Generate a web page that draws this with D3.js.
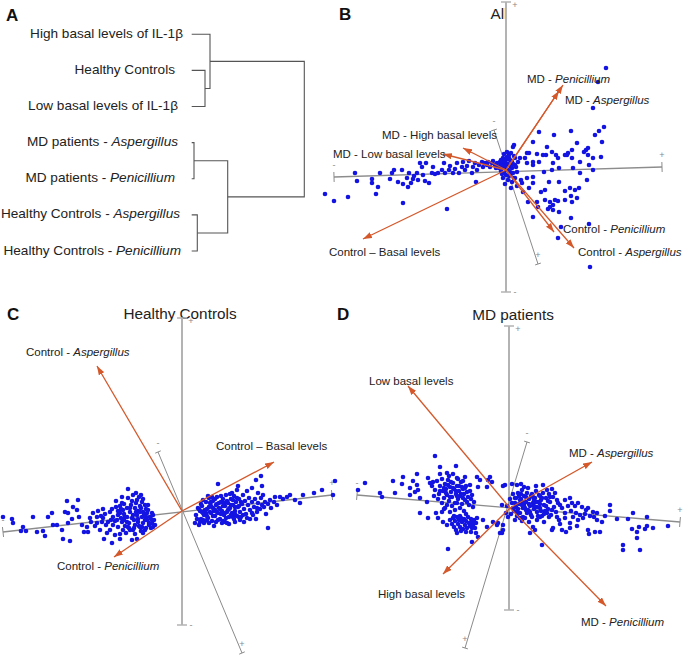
<!DOCTYPE html>
<html><head><meta charset="utf-8">
<script src="https://cdn.jsdelivr.net/npm/d3@7"></script>
<style>
body{margin:0;background:#fff;}
svg{display:block;font-family:"Liberation Sans",Arial,sans-serif;}
</style></head><body>
<svg id="chart" width="685" height="663"></svg>
<script>
// ---------- DATA ----------
// Panel A: dendrogram leaves [plain text, italic text]
const leavesA = [
  ["High basal levels of IL-1β",""],
  ["Healthy Controls",""],
  ["Low basal levels of IL-1β",""],
  ["MD patients - ","Aspergillus"],
  ["MD patients - ","Penicillium"],
  ["Healthy Controls - ","Aspergillus"],
  ["Healthy Controls - ","Penicillium"]
];
// merges: [childA, childB, height]; "mK" refers to merge K
const mergesA = [[1,2,13.3],[0,"m0",18.3],[3,4,2.3],[5,6,5.6],["m2","m3",36],["m1","m4",112.6]];

// Panel B: All — sample scores
const pointsB = [[-181,-24],[-172,-31],[-158,-27],[-151,-3],[-149,-11],[-134,-9],[-134,-13],[-130,-24],[-128,-17],[-126,-3],[-116,-9],[-114,-3],[-112,0],[-108,-12],[-104,0],[-103,-14],[-103,-33],[-99,-8],[-97,-3],[-98,-17],[-95,-13],[-93,-9],[-92,-6],[-89,-3],[-88,-10],[-86,7],[-84,3],[-83,-5],[-80,7],[-81,-11],[-77,-13],[-74,-3],[-73,3],[-71,-4],[-68,-3],[-64,0],[-62,7],[-61,-3],[-59,-39],[-57,0],[-56,4],[-53,-3],[-51,1],[-49,7],[-47,-3],[-44,3],[-43,8],[-41,0],[-39,4],[-37,9],[-34,-3],[-33,3],[-31,7],[-30,-12],[-29,0],[-27,5],[-24,8],[-23,3],[-21,7],[-19,5],[-18,8],[-16,3],[-14,7],[-13,9],[-11,5],[-9,7],[-8,3],[-6,8],[-4,5],[-3,2],[-1,7],[1,0],
[-2,-3],[3,-6],[-5,-1],[6,2],[2,-10],[-3,-8],[5,-4],[8,-8],[4,10],[0,4],[-7,2],[7,6],[10,3],[3,12],[-1,-14],[6,-12],[11,-2],[-10,2],[9,12],[12,8],
[100,102],[92,88],[87,62],[98,43],[93,39],[89,35],[96,28],[65,39],[48,35],[33,38],[71,27],[82,22],[80,20],[78,18],[41,23],[27,28],[8,25],[66,20],[62,17],[59,15],[50,15],[46,18],[37,15],[31,16],[23,17],[21,17],[14,12],[19,12],[27,8],[33,8],[40,15],[47,7],[52,12],[61,15],[66,12],[74,8],[82,15],[87,12],[95,13],[83,5],[87,0],[67,2],[74,-3],[53,2],[46,0],[38,-2],[27,5],[21,7],[81,-10],[53,-12],[43,-12],[27,-7],[21,-8],[15,-10],[9,-8],[16,-13],[27,-13],[23,-18],[5,-18],[11,-16],[73,-18],[69,-20],[64,-18],[59,-21],[39,-20],[35,-22],[17,-22],[65,-26],[71,-28],[59,-30],[52,-31],[49,-30],[44,-32],[39,-30],[31,-32],[22,-32],[66,-32],[44,-37],[47,-35],[42,-39],[47,-40],[32,-37],[53,-42],[27,-47],[65,-48],[55,-57],[83,-54],[52,-68],[84,-97],
[0,10],[3,15],[-3,12],[6,8],[1,18],[-4,6],[8,14],[5,3],[-2,16],[2,6],[9,5],[4,-2],[-5,10],[7,-3],[0,-5],[2,0],[-1,2],[7,23],[5,17],[-6,4],[-2,9],[4,5],[1,13],[-4,-4],[3,-1]];
// loadings [plain, italic, x, y]
const arrowsB = [["MD - ","Penicillium",57,85],["MD - ","Aspergillus",53,79],["MD - High basal levels","",-43,22],["MD - Low basal levels","",-63,16],["Control – Basal levels","",-143,-69],["Control - ","Penicillium",48,-62],["Control - ","Aspergillus",68,-78]];
// biplot axes [x1,y1,x2,y2] : horizontal, vertical, third
const axesB = [[-172,-7,156,3],[0,168,0,-122],[-12,40,32,-94]];

// Panel C: Healthy Controls
const pointsC = [[-179,-6],[-170,-8],[-169,-12],[-161,-20],[-159,-16],[-156,-20],[-149,-6],[-145,-21],[-139,-20],[-137,-25],[-134,-6],[-130,-2],[-129,-14],[-125,-14],[-120,-19],[-119,-28],[-115,10],[-117,-1],[-114,-2],[-114,-12],[-112,-30],[-110,-8],[-109,4],[-105,1],[-104,11],[-103,-6],[-100,-14],[-98,-21],[-95,-16],[-94,-21],[-54,22],[-49,16],[-45,11],[-66,10],[-60,8],[-40,9],[-37,6],[-30,-12],[-29,-16],[-27,-14],[-39,-22],[-45,-28],[-50,-29],[-62,-28],[-70,-32],[-78,-28],[-75,-22],[-82,-19],[-85,-12],[-89,-2],[-84,0],[-79,2],[-72,-1],[-69,-6],[-65,-9],[-62,-2],[-59,1],[-57,-6],[-55,-11],[-52,-1],[-50,-7],[-47,3],[-45,-4],[-44,-11],[-42,-1],[-40,-6],[-39,-12],[-35,-2],[-35,-9],[-34,1],[-32,-6],[-30,-2],[-54,-16],[-49,-19],[-59,-19],[-64,-16],[-69,-14],[-74,-11],[-79,-7],[-85,-6],[-92,-7],[-42,-16],[-47,-14],[-60,-11],[-64,-4],
[-66,4],[-62,5],[-58,-3],[-55,3],[-53,-12],[-51,6],[-48,-9],[-46,8],[-44,0],[-43,-15],[-41,3],[-38,-4],[-37,-9],[-36,2],[-33,-12],[-31,-8],[-29,-4],[-28,-9],[-57,-15],[-61,-7],[-67,-10],[-71,-9],[-76,-14],[-80,-11],[-87,-15],[-91,-11],[-77,-3],[-81,-5],[-70,2],[-64,0],[-52,-19],[-47,-23],[-41,-20],[-36,-17],[-56,-22],[-62,-23],[-67,-24],[-72,-19],[-54,13],[-50,10],[-43,14],[-39,12],[-60,14],[-46,18],[-41,16],
[-33,-14],[-36,-6],[-39,-1],[-42,5],[-46,-1],[-49,-4],[-52,3],[-55,-6],[-58,-9],[-61,2],[-48,-17],[-44,-8],[-37,-19],[-31,-17],[-34,6],[-40,-16],[-53,-17],[-58,7],
[36,27],[79,35],[74,31],[56,25],[70,23],[80,25],[50,18],[55,21],[65,20],[76,18],[81,16],[93,14],[98,14],[101,12],[105,14],[108,16],[113,11],[121,16],[132,18],[140,21],[153,30],[151,16],[118,8],[88,11],[86,-17],[13,-12],[17,-14],[21,-9],[43,-11],[53,-11],[51,-6],[61,-4],[70,-2],[75,3],[80,6],[83,9],
[18,0],[20,5],[22,-4],[24,9],[25,2],[26,-7],[27,13],[28,-1],[29,5],[30,-10],[31,10],[32,0],[33,-5],[34,6],[35,14],[36,-2],[37,3],[38,-8],[39,9],[40,0],[41,12],[42,-4],[43,5],[44,16],[45,-1],[46,8],[47,-6],[48,3],[49,12],[50,-2],[51,6],[52,15],[53,0],[54,9],[55,-5],[56,4],[57,12],[58,-1],[60,7],[61,16],[62,2],[63,10],[64,-3],[66,6],[67,13],[68,1],[70,9],[71,-4],[72,4],[73,12],[75,-1],[76,8],[78,2],[79,13],[82,4],[84,-3],[86,7],[89,3],[92,9],[95,6],[19,-8],[21,11],[23,-10],[26,15],[28,8],[33,12],[36,-9],[39,15],[44,-7],[48,17],[52,-8],[59,-6],[65,-7],[20,-1],[24,-2],[29,-2],[31,3],[35,7],[38,2],[42,8],[46,1],[49,-4],[53,4],[57,5],[14,-4],[16,3],[27,-12],[32,-15],[40,-12],[47,-13],[58,-9],[62,-11],[68,-8],[74,-8],
[17,2],[19,7],[21,-2],[23,1],[25,-5],[27,4],[29,9],[31,-5],[33,1],[35,-1],[37,8],[39,-3],[41,5],[43,-2],[45,10],[47,2],[49,6],[51,11],[53,-3],[55,13],[57,-6],[59,9],[22,-12],[25,-9],[18,-11],[15,-8],[34,-11],[30,14],[41,-10],[45,-12]];
const arrowsC = [["Control - ","Aspergillus",-85,145],["Control – Basal levels","",92,49],["Control - ","Penicillium",-68,-46]];
const axesC = [[-179,-21,150,16],[0,193,0,-114],[-24,59,60,-142]];

// Panel D: MD patients
const pointsD = [[-152,18],[-145,25],[-130,15],[-128,11],[-117,27],[-115,15],[-108,24],[-107,31],[-100,20],[-100,13],[-97,27],[-95,16],[-93,34],[-93,23],[-92,18],[-90,10],[-90,-5],[-83,6],[-82,30],[-82,-10],[-80,25],[-77,26],[-75,52],[-74,-5],[-72,-10],[-70,41],[-70,34],[-68,-4],[-67,-14],[-65,0],[-63,35],[-63,-17],[-62,-41],[-60,-4],[-54,42],[-53,30],[-53,5],[-45,31],[-40,23],[-38,-20],[-37,1],[-34,-25],[-32,-29],[-38,-34],[-33,31],[-30,28],[-32,21],[-27,-12],[-23,21],[-22,28],[-20,31],[-18,26],[-23,-19],[-17,-14],[-13,-17],[-12,-15],[-7,22],[-5,23],[-8,-25],[-7,-22],
[-78,22],[-75,18],[-73,27],[-71,14],[-70,22],[-68,29],[-67,17],[-66,10],[-65,24],[-64,19],[-63,13],[-62,28],[-61,7],[-60,21],[-59,16],[-58,11],[-57,25],[-56,19],[-55,5],[-54,14],[-53,22],[-52,9],[-51,17],[-50,12],[-49,26],[-48,4],[-47,19],[-46,14],[-45,8],[-44,22],[-43,16],[-42,11],[-41,3],[-40,17],[-39,9],[-38,13],[-36,6],[-55,-2],[-50,0],[-46,-3],[-58,2],[-63,3],[-68,5],[-72,9],[-76,12],[-61,32],[-57,34],[-52,29],[-47,27],[-66,-1],[-44,-6],[-50,-8],
[-64,15],[-60,11],[-57,20],[-54,17],[-51,22],[-49,14],[-47,10],[-45,20],[-43,6],[-62,23],[-59,26],[-66,20],[-70,17],[-53,12],[-48,21],
[-60,-12],[-58,-16],[-57,-10],[-56,-19],[-55,-13],[-54,-22],[-53,-9],[-52,-16],[-51,-12],[-50,-19],[-49,-10],[-48,-14],[-47,-21],[-46,-11],[-45,-17],[-44,-13],[-43,-20],[-42,-9],[-41,-15],[-40,-18],[-39,-11],[-38,-14],[-37,-17],[-36,-12],[-35,-20],[-34,-15],[-33,-10],[-56,-8],[-49,-23],[-44,-24],[-39,-24],[-53,-25],
[2,24],[7,23],[11,24],[14,21],[33,23],[42,19],[39,14],[60,10],[62,5],[65,2],[68,5],[72,1],[76,-2],[78,0],[83,-4],[87,-5],[100,3],[100,-3],[107,-11],[118,-11],[123,-5],[137,-9],[158,-18],[122,-21],[127,-24],[129,-19],[127,-30],[135,-21],[137,-18],[143,-20],[113,-37],[113,-42],[130,-42],[78,-22],[79,-26],[85,-24],[90,-24],[87,-12],[73,-10],[68,-12],[63,-9],[60,-15],[52,-22],[43,-20],[42,-22],[32,-37],[25,-22],[20,-25],[23,-19],[48,5],[52,0],[55,-5],[47,-9],[37,-5],[30,-9],[-8,3],[-2,-9],[-7,-17],[-10,-25],
[2,5],[4,-3],[5,10],[6,1],[7,-8],[8,15],[9,4],[10,-5],[11,9],[12,18],[13,0],[14,12],[15,-10],[16,6],[17,15],[18,-2],[19,9],[20,2],[21,-7],[22,14],[23,5],[24,-1],[25,10],[26,17],[27,-4],[28,6],[29,13],[30,0],[31,8],[32,-8],[33,15],[34,3],[35,-3],[36,10],[38,-1],[40,6],[41,-7],[43,11],[44,1],[46,-4],[47,8],[49,-12],[50,3],[45,15],[37,18],[26,22],[18,20],[3,14],[1,-6],[5,-12],[12,-13],[19,-14],[27,-12],[34,-14],[13,-9],[9,12],[16,11],[24,8],[30,12],[20,-4],[14,3],[8,-1],[39,-9],[0,9],[-3,2],[-4,-5],[55,-10],[58,2],[61,-3],[66,-5],[70,-7],[75,-6],[80,-8],[84,-9],[92,-14],[95,-8],[55,8],[60,-20],[67,-18],[50,-16],[56,-24],
[3,0],[5,5],[7,-4],[10,8],[12,3],[15,0],[17,-5],[19,4],[21,12],[22,-9],[24,2],[26,6],[28,-8],[30,4],[32,10],[34,-6],[36,2],[38,7],[10,-10],[16,-2],[27,1],[13,6],[23,11],[40,11],[42,-2],[31,-3],[6,10],[11,14]];
const arrowsD = [["Low basal levels","",-102,122],["MD - ","Aspergillus",82,46],["High basal levels","",-67,-66],["MD - ","Penicillium",96,-98]];
const axesD = [[-153,13,170,-14],[-1,182,-1,-102],[17,66,-45,-140]];

const axisEndText = [["-","+"],["+","-"],["-","+"]];

// ---------- LAYOUT ----------
const svg = d3.select("#chart");
const ORANGE = "#d4582a", BLUE = "#1414e2", TXT = "#222";

const defs = svg.append("defs");
defs.append("marker").attr("id","ah").attr("viewBox","0 0 10 7")
  .attr("refX",10).attr("refY",3.5).attr("markerWidth",9).attr("markerHeight",6.5)
  .attr("markerUnits","userSpaceOnUse").attr("orient","auto")
  .append("path").attr("d","M0,0L10,3.5L0,7Z").attr("fill",ORANGE);

function addLabel(g, x, y, plain, ital, size, anchor) {
  const t = g.append("text").attr("x",x).attr("y",y).attr("font-size",size)
    .attr("fill",TXT).attr("text-anchor",anchor||"start");
  t.append("tspan").text(plain);
  if (ital) t.append("tspan").attr("font-style","italic").text(ital);
  return t;
}

// Panel letters & titles
[["A",6,21],["B",339,20],["C",7,320],["D",337,320]].forEach(([s,x,y]) =>
  svg.append("text").attr("x",x).attr("y",y).attr("font-size",17).attr("font-weight","bold").attr("fill","#111").text(s));
[["All",499,19],["Healthy Controls",180,319],["MD patients",513,320]].forEach(([s,x,y]) =>
  svg.append("text").attr("x",x).attr("y",y).attr("font-size",15.3).attr("text-anchor","middle").attr("fill",TXT).text(s));

// ---------- Panel A: dendrogram ----------
(function(){
  const g = svg.append("g");
  const yL = d3.scalePoint().domain(d3.range(leavesA.length)).range([34.3, 251]);
  const xH = d3.scaleLinear().domain([0, 112.6]).range([191.7, 304.3]);
  const labelEnd = [183,175,178,178,175,180,181];
  const nodes = {};
  leavesA.forEach((l,i) => { nodes[i] = {x:xH(0), y:yL(i)}; });
  mergesA.forEach((m,k) => {
    const a = nodes[m[0]], b = nodes[m[1]], x = xH(m[2]);
    nodes["m"+k] = {x:x, y:(a.y+b.y)/2};
    const p = d3.path();
    p.moveTo(a.x,a.y); p.lineTo(x,a.y); p.lineTo(x,b.y); p.lineTo(b.x,b.y);
    g.append("path").attr("d",p.toString()).attr("fill","none").attr("stroke","#555").attr("stroke-width",1.1);
  });
  leavesA.forEach((l,i) => addLabel(g, labelEnd[i], yL(i)+3.5, l[0], l[1], 13.6, "end"));
})();

// ---------- Biplots ----------
function biplot(cfg) {
  const g = svg.append("g");
  const x = d3.scaleLinear().domain([-200,200]).range([cfg.ox-200, cfg.ox+200]);
  const y = d3.scaleLinear().domain([-200,200]).range([cfg.oy+200, cfg.oy-200]);
  const styles = [{c:"#8c8c8c",w:1.3},{c:"#b3b3b3",w:2},{c:"#8a8a8a",w:1}];
  cfg.axes.forEach((a,i) => {
    const x1=x(a[0]), y1=y(a[1]), x2=x(a[2]), y2=y(a[3]);
    g.append("line").attr("x1",x1).attr("y1",y1).attr("x2",x2).attr("y2",y2)
      .attr("stroke",styles[i].c).attr("stroke-width",styles[i].w);
    const len = Math.hypot(x2-x1,y2-y1), nx = -(y2-y1)/len, ny = (x2-x1)/len;
    const cap = i===2 ? 3 : 5;
    [[x1,y1],[x2,y2]].forEach(([px,py],j) => {
      g.append("line").attr("x1",px-nx*cap).attr("y1",py-ny*cap).attr("x2",px+nx*cap).attr("y2",py+ny*cap)
        .attr("stroke",styles[i].c).attr("stroke-width",Math.max(1,styles[i].w-0.5));
      const off = i===1 ? [9, j===0 ? 6 : 3] : (i===0 ? [0,-9] : [0,-6]);
      g.append("text").attr("x",px+off[0]).attr("y",py+off[1]).attr("font-size",9)
        .attr("text-anchor","middle").attr("fill","#888").text(axisEndText[i][j]);
    });
  });
  g.append("g").selectAll("circle").data(cfg.points).join("circle")
    .attr("cx",d=>x(d[0])).attr("cy",d=>y(d[1])).attr("r",2.3).attr("fill",BLUE);
  g.append("g").selectAll("line").data(cfg.arrows).join("line")
    .attr("x1",x(0)).attr("y1",y(0)).attr("x2",d=>x(d[2])).attr("y2",d=>y(d[3]))
    .attr("stroke",ORANGE).attr("stroke-width",1.3).attr("marker-end","url(#ah)");
  cfg.arrows.forEach((d,i) => addLabel(g, cfg.labels[i][0], cfg.labels[i][1]+4, d[0], d[1], 11.5));
}

biplot({ox:506, oy:170, points:pointsB, arrows:arrowsB, axes:axesB,
  labels:[[527,79],[565,100],[382,135],[333,154],[329,251.5],[563,229],[578,251.5]]});
biplot({ox:182, oy:511, points:pointsC, arrows:arrowsC, axes:axesC,
  labels:[[26,352],[216,446],[57,566]]});
biplot({ox:510, oy:508, points:pointsD, arrows:arrowsD, axes:axesD,
  labels:[[369,381],[569,453],[378,594],[581,622]]});
</script>
</body></html>
